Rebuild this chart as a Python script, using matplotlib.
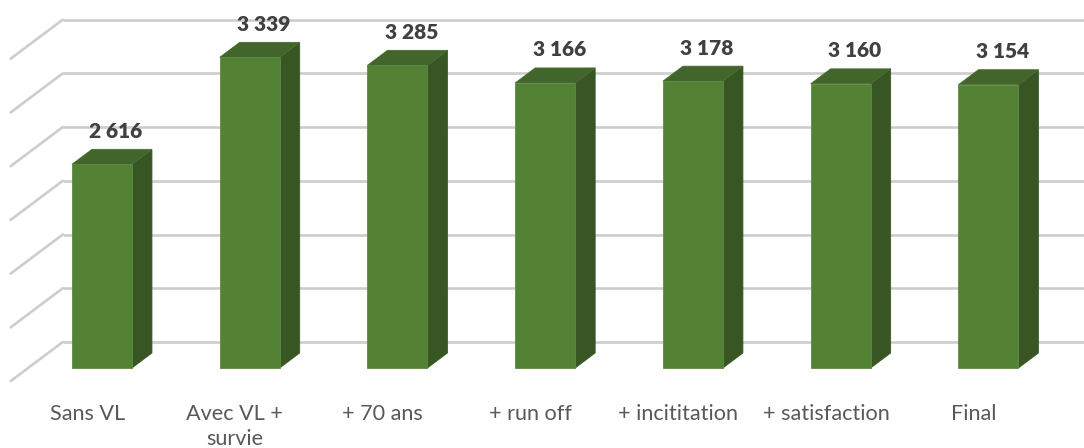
import numpy as np
import matplotlib
matplotlib.use("Agg")
import matplotlib.pyplot as plt
from matplotlib.patches import Polygon, Rectangle

categories = ["Sans VL", "Avec VL +\nsurvie", "+ 70 ans", "+ run off",
              "+ incititation", "+ satisfaction", "Final"]
values = [2616, 3339, 3285, 3166, 3178, 3160, 3154]
value_labels = ["2 616", "3 339", "3 285", "3 166", "3 178", "3 160", "3 154"]

# value axis of the 3d column chart
v_min = 1240
grid_step = 363
n_grid = 7

# fake 3d geometry (category units / value units)
bar_w = 0.406
depth_dx = 0.1354
depth_dy = 101.4
wall_depth = 1.733
floor_front = -0.87
wall_x = -0.5

front_col = "#548235"
top_col = "#41652a"
side_col = "#375623"
grid_col = "#cdcdcd"

plt.rcParams["font.family"] = ["Lato", "DejaVu Sans"]

fig = plt.figure(figsize=(10.84, 4.48), dpi=100)
ax = fig.add_axes([0, 0, 1, 1])
ax.set_xlim(-0.690, 6.647)
ax.set_ylim(699.5, 3726.5)
ax.axis("off")

# back wall gridlines + left wall diagonals
wx = wall_x + wall_depth * depth_dx
wdy = wall_depth * depth_dy
fx = wall_x + floor_front * depth_dx
fdy = floor_front * depth_dy
for g in v_min + grid_step * np.arange(n_grid):
    ax.plot([wx, 8], [g + wdy, g + wdy], color=grid_col, lw=1.9,
            solid_capstyle="butt", zorder=1)
    ax.plot([fx, wx], [g + fdy, g + wdy], color=grid_col, lw=1.9,
            solid_capstyle="round", zorder=1)

for i, v in enumerate(values):
    x0, x1 = i - bar_w / 2, i + bar_w / 2
    side = [(x1, v_min), (x1 + depth_dx, v_min + depth_dy),
            (x1 + depth_dx, v + depth_dy), (x1, v)]
    top = [(x0, v), (x1, v), (x1 + depth_dx, v + depth_dy),
           (x0 + depth_dx, v + depth_dy)]
    ax.add_patch(Polygon(side, closed=True, fc=side_col, ec="#3a5a26",
                         lw=0.6, zorder=3))
    ax.add_patch(Polygon(top, closed=True, fc=top_col, ec="#4a6e32",
                         lw=0.6, zorder=3))
    ax.add_patch(Rectangle((x0, v_min), bar_w, v - v_min, fc=front_col,
                           ec="#5e8a44", lw=0.6, zorder=4))
    ax.text(i + 0.095, v + 223, value_labels[i], ha="center", va="center",
            fontsize=15, fontweight="heavy", color="#404040", zorder=5)
    ax.text(i - 0.1, 1240 - 36 / 0.148, categories[i], ha="center", va="top",
            fontsize=15.6, color="#595959", linespacing=1.3, zorder=5)

fig.savefig("out.png", dpi=100)
